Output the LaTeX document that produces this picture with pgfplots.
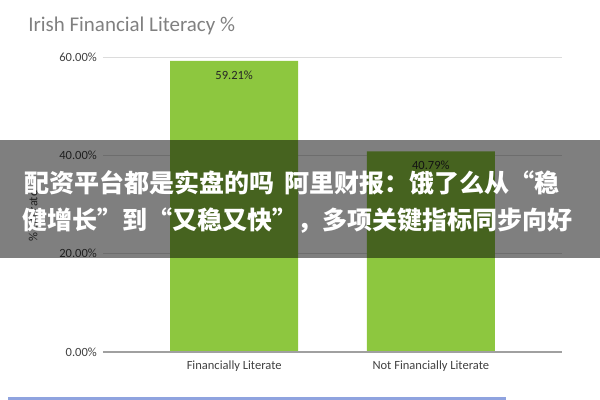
\documentclass[border=0pt]{standalone}
\usepackage{fontspec}
\setmainfont{Carlito}
\newfontfamily\cjk{Noto Sans CJK SC}
\usepackage{pgfplots}
\pgfplotsset{compat=1.18}

\definecolor{barGreen}{HTML}{8DC73F}
\definecolor{titleGray}{HTML}{808080}
\definecolor{labelGray}{HTML}{404040}
\definecolor{gridGray}{HTML}{DCDCDC}
\definecolor{baseGray}{HTML}{A0A0A0}
\definecolor{stripBlue}{HTML}{8FA3DF}

\begin{document}
\begin{tikzpicture}
\path[use as bounding box] (0,0) rectangle (150mm,100mm);

\begin{axis}[
  at={(25.75mm,12mm)}, anchor=south west,
  scale only axis, width=114.75mm, height=73.75mm,
  ybar, bar width=32mm, bar shift=0pt,
  xmin=-0.667, xmax=1.667, ymin=0, ymax=60,
  xtick={0,1}, xticklabels={Financially Literate, Not Financially Literate},
  ytick={0,20,40,60},
  yticklabel={\pgfmathprintnumber[fixed,fixed zerofill,precision=2]{\tick}\%},
  /pgf/number format/assume math mode=true,
  major tick length=0pt,
  axis line style={draw=none},
  ymajorgrids, major grid style={draw=gridGray, line width=0.6pt},
  tick label style={font=\fontsize{8.9}{10}\selectfont, text=labelGray},
  xticklabel style={yshift=-1mm},
  yticklabel style={xshift=-0.3mm},
  nodes near coords={\pgfmathprintnumber[fixed,fixed zerofill,precision=2]{\pgfplotspointmeta}\%},
  nodes near coords style={anchor=center, yshift=-3.5mm, font=\fontsize{8.9}{10}\selectfont, text=black!85},
  clip=false,
]
\addplot[fill=barGreen, draw=none] coordinates {(0,59.21) (1,40.79)};
\draw[baseGray, line width=0.9pt] (rel axis cs:0,0) -- (rel axis cs:1,0);
\end{axis}

% title and axis label
\node[anchor=base west, inner sep=0pt, text=titleGray, font=\fontsize{14.9}{16}\selectfont] at (7mm,92mm) {Irish Financial Literacy \%};
\node[rotate=90, inner sep=0pt, text=labelGray, font=\fontsize{8.9}{10}\selectfont] at (8.25mm,46mm) {\% Literate};

% overlay band with caption
\fill[black, opacity=0.5] (0,35.5mm) rectangle (150mm,65mm);
\node[anchor=west, text=white, inner sep=0pt, font=\cjk\bfseries\fontsize{17.8}{19}\selectfont] at (6mm,54.25mm) {配资平台都是实盘的吗\hspace{2.5mm}阿里财报：饿了么从“稳};
\node[anchor=west, text=white, inner sep=0pt, font=\cjk\bfseries\fontsize{17.8}{19}\selectfont] at (5.5mm,44.75mm) {健增长”到“又稳又快”，多项关键指标同步向好};

% bottom strip
\fill[stripBlue] (2mm,0) rectangle (126.5mm,0.75mm);
\end{tikzpicture}
\end{document}
